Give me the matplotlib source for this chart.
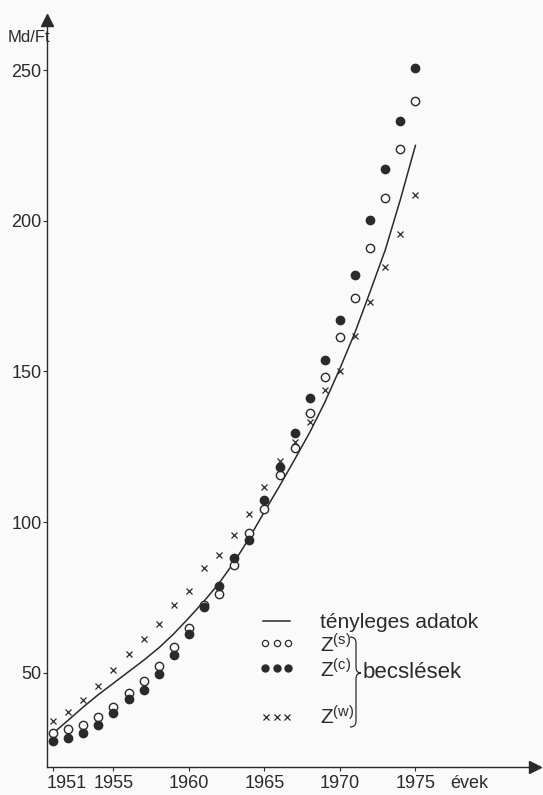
import matplotlib
matplotlib.use('Agg')
import matplotlib.pyplot as plt
from matplotlib.lines import Line2D
from matplotlib.path import Path
from matplotlib.patches import PathPatch
from matplotlib.transforms import ScaledTranslation

years = list(range(1951, 1976))

# tényleges adatok (solid line)
actual = [30, 34.3, 38.7, 42.8, 46.6, 50.4, 54.2, 58.3, 63, 68.3, 73.8, 79.8, 86.8,
          94.8, 103.5, 112, 120.8, 129.8, 139.8, 151, 163, 176.5, 190.3, 207, 225]
# Z(s) open circles
z_s = [30, 31.3, 32.7, 35.3, 38.7, 43.3, 47.3, 52.3, 58.7, 65, 72.5, 76.3, 85.7,
       96.3, 104.3, 115.7, 124.7, 136.3, 148.3, 161.3, 174.3, 191, 207.7, 223.7, 239.7]
# Z(c) filled circles
z_c = [27.3, 28.3, 30, 32.7, 36.7, 41.3, 44.3, 49.7, 56, 63, 72, 79, 88, 94,
       107.3, 118.3, 129.7, 141.3, 153.7, 167, 182, 200.3, 217.3, 233, 250.7]
# Z(w) crosses
z_w = [34, 37, 41, 45.7, 51, 56.3, 61.3, 66.3, 72.7, 77.3, 84.7, 89, 95.7, 102.7,
       111.7, 120.3, 126.7, 133.3, 143.7, 150, 161.7, 173, 184.7, 195.7, 208.7]

xticks = [1951, 1955, 1960, 1965, 1970, 1975]
yticks = [50, 100, 150, 200, 250]

plt.rcParams['font.family'] = ['Liberation Sans', 'DejaVu Sans']
ink = '#2a2a2a'
bg = '#fafafa'
W, H = 543, 795


def fx(px):
    return px / W


def fy(py):
    return 1 - py / H


fig = plt.figure(figsize=(5.43, 7.95), dpi=100, facecolor=bg)
ax = fig.add_axes([fx(47), fy(767), 488 / W, 747 / H])
ax.set_facecolor(bg)

ax.plot(years, actual, color=ink, lw=1.1)
ax.plot(years, z_s, 'o', ms=6, mfc=bg, mec=ink, mew=1.0)
ax.plot(years, z_c, 'o', ms=6, mfc=ink, mec=ink)
ax.plot(years, z_w, 'x', ms=5, mec=ink, mew=0.9)

ax.set_xlim(1950.6, 1950.6 + 488 / 15.1)
ax.set_ylim(18.8, 266.6)

for s in ['top', 'right']:
    ax.spines[s].set_visible(False)
for s in ['left', 'bottom']:
    ax.spines[s].set_color(ink)
    ax.spines[s].set_linewidth(1.0)

ax.set_xticks(xticks)
ax.set_xticklabels([str(t) for t in xticks])
ax.set_yticks(yticks)
ax.set_yticklabels([str(t) for t in yticks])
ax.tick_params(axis='both', colors=ink, labelsize=13, length=3, width=0.8)
ax.tick_params(axis='x', pad=3)
ax.tick_params(axis='y', pad=1)
first = ax.get_xticklabels()[0]
first.set_ha('left')
first.set_transform(first.get_transform() + ScaledTranslation(-0.06, 0, fig.dpi_scale_trans))

# arrow heads
ax.plot(1, 0, '>', color=ink, ms=9, transform=ax.transAxes, clip_on=False)
ax.plot(0, 1, '^', color=ink, ms=9, transform=ax.transAxes, clip_on=False)

fig.text(fx(50), fy(38), 'Md/Ft', ha='right', va='center', fontsize=12, color=ink)
fig.text(fx(469), fy(783), 'évek', ha='center', va='center', fontsize=13, color=ink)

# legend
fig.add_artist(Line2D([fx(263), fx(290)], [fy(621), fy(621)], color=ink, lw=1.1,
                      transform=fig.transFigure))
fig.add_artist(Line2D([fx(265), fx(276.5), fx(288)], [fy(643)] * 3, ls='none',
                      marker='o', ms=4.5, mfc=bg, mec=ink, mew=0.9,
                      transform=fig.transFigure))
fig.add_artist(Line2D([fx(265), fx(276.5), fx(288)], [fy(668)] * 3, ls='none',
                      marker='o', ms=5, mfc=ink, mec=ink,
                      transform=fig.transFigure))
fig.add_artist(Line2D([fx(266), fx(276.5), fx(287)], [fy(717)] * 3, ls='none',
                      marker='x', ms=4.5, mec=ink, mew=0.9,
                      transform=fig.transFigure))

fig.text(fx(320), fy(622), 'tényleges adatok', ha='left', va='center', fontsize=15, color=ink)
fig.text(fx(320), fy(645), r'$\mathregular{Z^{(s)}}$', ha='left', va='center', fontsize=15, color=ink)
fig.text(fx(320), fy(670), r'$\mathregular{Z^{(c)}}$', ha='left', va='center', fontsize=15, color=ink)
fig.text(fx(320), fy(717), r'$\mathregular{Z^{(w)}}$', ha='left', va='center', fontsize=15, color=ink)
fig.text(fx(363), fy(673), 'becslések', ha='left', va='center', fontsize=16, color=ink)

pts = [(350, 637), (356, 637), (356, 643), (356, 667), (356, 673), (361, 673),
       (356, 673), (356, 679), (356, 721), (356, 727), (350, 727)]
codes = [Path.MOVETO, Path.CURVE3, Path.CURVE3, Path.LINETO, Path.CURVE3, Path.CURVE3,
         Path.CURVE3, Path.CURVE3, Path.LINETO, Path.CURVE3, Path.CURVE3]
brace = Path([(fx(a), fy(b)) for a, b in pts], codes)
fig.add_artist(PathPatch(brace, fill=False, ec=ink, lw=0.9, transform=fig.transFigure))

fig.savefig('out.png', dpi=100, facecolor=fig.get_facecolor())
